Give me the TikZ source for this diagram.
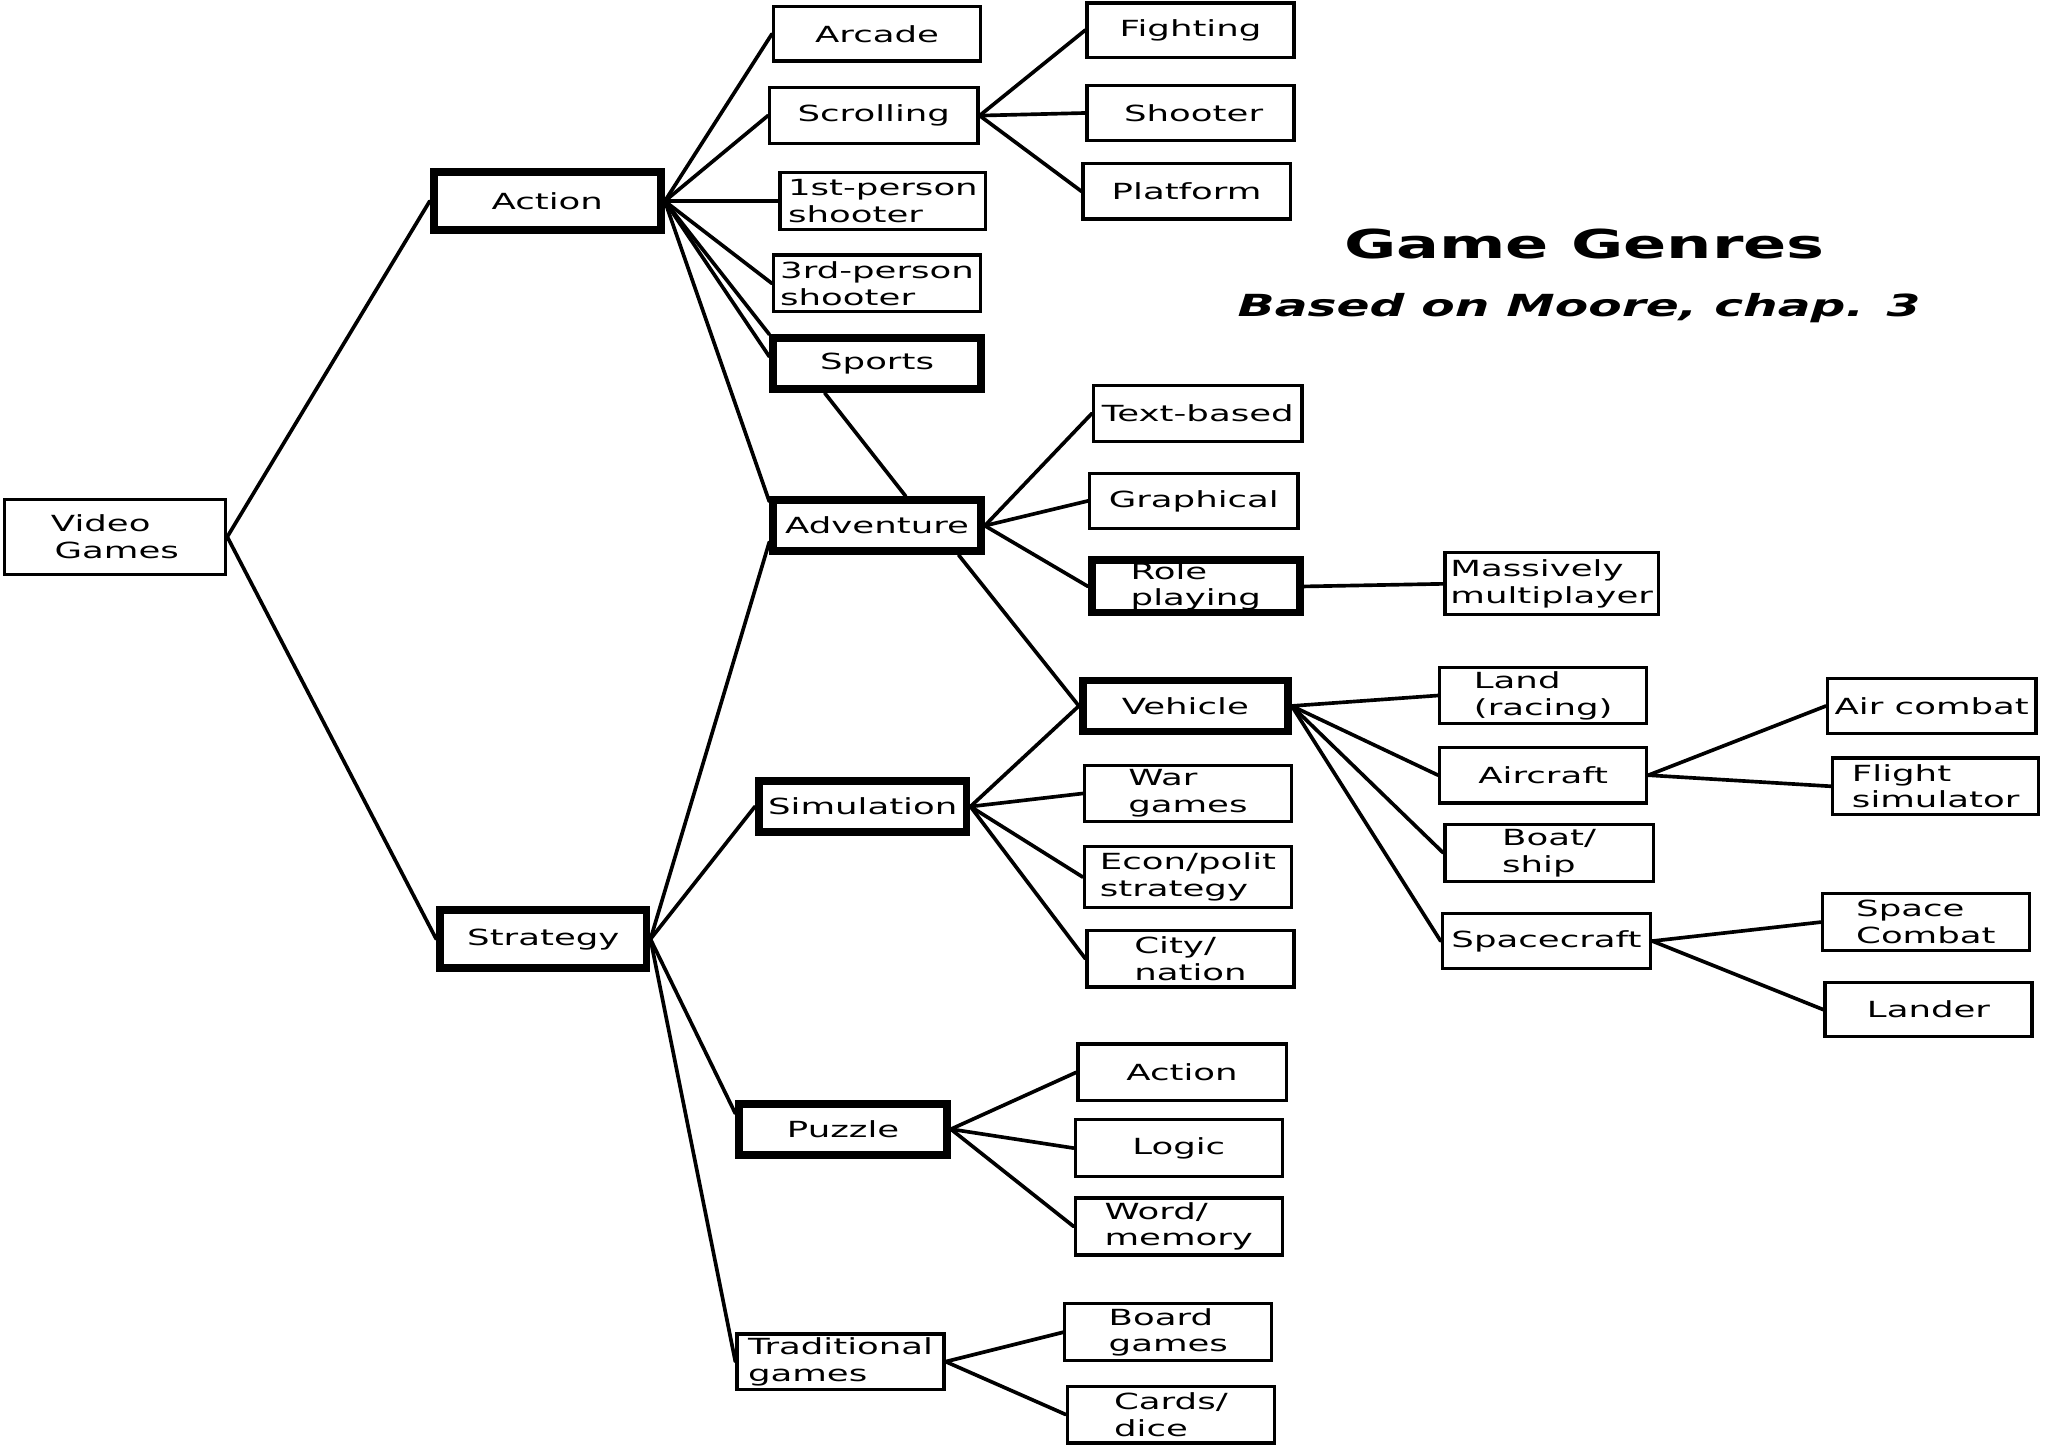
\documentclass[tikz,border=0pt]{standalone}
\usepackage{fontspec}
\setmainfont{DejaVu Sans}[FakeStretch=1.6]
\newcommand\bodyfont{\fontsize{17}{20.5}\selectfont}
\newcommand\titlefont{\bfseries\fontsize{30.5}{36}\selectfont}
\newcommand\subtitlefont{\bfseries\itshape\fontsize{23.3}{28}\selectfont}
\tikzset{
  box/.style={draw, line width=2.5pt, inner sep=0pt, align=left, font=\bodyfont},
  bx/.style args={#1/#2}{box, minimum width=#1pt-2.5pt, minimum height=#2pt-2.5pt},
  tbx/.style args={#1/#2}{box, line width=6pt, minimum width=#1pt-6pt, minimum height=#2pt-6pt},
  link/.style={line width=2.8pt, line cap=round},
}
\begin{document}
\begin{tikzpicture}[x=1pt,y=-1pt]
\useasboundingbox (0,0) rectangle (1568,1108);
% level 0
\node[bx=172/60] (vg) at (88,411) {Video\\\,Games};
% level 1
\node[tbx=180/50] (action) at (419,154) {Action};
\node[tbx=164/50] (strategy) at (416,719) {Strategy};
% action children
\node[bx=161/44] (arcade) at (671.5,26) {Arcade};
\node[bx=162/45] (scrolling) at (669,88.5) {Scrolling};
\node[bx=160/46] (first) at (676,154) {1st-person\\shooter};
\node[bx=161/46] (third) at (671.5,217) {3rd-person\\shooter};
\node[tbx=165/45] (sports) at (671.5,278.5) {Sports};
\node[tbx=165/45] (adventure) at (671.5,402.5) {Adventure};
% scrolling children
\node[bx=161/44] (fighting) at (911.5,23) {Fighting};
\node[bx=161/45] (shooter) at (911.5,86.5) {\;Shooter};
\node[bx=161/45] (platform) at (908.5,146.5) {Platform};
% title
\node[font=\titlefont] (title) at (1213,187) {Game Genres};
\node[font=\subtitlefont] (subtitle) at (1209,236) {Based on Moore, chap. 3};
% adventure children
\node[bx=162/45] (textbased) at (917,316.5) {Text-based};
\node[bx=162/45] (graphical) at (914,383.5) {Graphical};
\node[tbx=165/46] (roleplay) at (915.5,449) {Role\\playing};
\node[bx=166/50] (mmo) at (1188,447) {Massively\\multiplayer};
\node[tbx=163/45] (vehicle) at (907.5,540.5) {Vehicle};
% vehicle children
\node[bx=161/45] (land) at (1181.5,532.5) {Land\\(racing)};
\node[bx=161/45] (aircraft) at (1181.5,593.5) {Aircraft};
\node[bx=162/46] (boat) at (1186,653) {Boat/\\ship};
\node[bx=162/45] (spacecraft) at (1184,720.5) {Spacecraft};
\node[bx=162/45] (aircombat) at (1479,540.5) {Air combat};
\node[bx=160/46] (flightsim) at (1482,602) {Flight\\simulator};
\node[bx=161/46] (spacecombat) at (1474.5,706) {Space\\Combat};
\node[bx=161/44] (lander) at (1476.5,773) {Lander};
% strategy children
\node[tbx=165/45] (simulation) at (660.5,617.5) {Simulation};
\node[bx=161/45] (wargames) at (909.5,607.5) {War\\games};
\node[bx=161/49] (econ) at (909.5,671.5) {Econ/polit\\strategy};
\node[bx=161/46] (city) at (911.5,734) {City/\\nation};
\node[tbx=165/45] (puzzle) at (645.5,864.5) {Puzzle};
\node[bx=162/46] (pzaction) at (905,821) {Action};
\node[bx=161/46] (logic) at (902.5,879) {Logic};
\node[bx=161/46] (word) at (902.5,939) {Word/\\memory};
\node[bx=161/45] (traditional) at (643.5,1042.5) {Traditional\\games};
\node[bx=161/46] (board) at (894.5,1020) {Board\\games};
\node[bx=161/46] (cards) at (896.5,1083) {Cards/\\dice};
% connectors
\draw[link] (vg.east) -- (action.west);
\draw[link] (vg.east) -- (strategy.west);
\draw[link] (action.east) -- (arcade.west);
\draw[link] (action.east) -- (scrolling.west);
\draw[link] (action.east) -- (first.west);
\draw[link] (action.east) -- (third.west);
\draw[link] (action.east) -- (sports.north west);
\draw[link] (action.east) -- ([yshift=5.5pt]sports.west);
\draw[link] (action.east) -- ([yshift=-4pt]adventure.north west);
\draw[link] ([xshift=-40pt]sports.south) -- ([xshift=22pt]adventure.north);
\draw[link] (scrolling.east) -- (fighting.west);
\draw[link] (scrolling.east) -- (shooter.west);
\draw[link] (scrolling.east) -- (platform.west);
\draw[link] (adventure.east) -- (textbased.west);
\draw[link] (adventure.east) -- (graphical.west);
\draw[link] (adventure.east) -- (roleplay.west);
\draw[link] (roleplay.east) -- (mmo.west);
\draw[link] ([xshift=-20pt]adventure.south east) -- (vehicle.west);
\draw[link] (vehicle.east) -- (land.west);
\draw[link] (vehicle.east) -- (aircraft.west);
\draw[link] (vehicle.east) -- (boat.west);
\draw[link] (vehicle.east) -- (spacecraft.west);
\draw[link] (aircraft.east) -- (aircombat.west);
\draw[link] (aircraft.east) -- (flightsim.west);
\draw[link] (spacecraft.east) -- (spacecombat.west);
\draw[link] (spacecraft.east) -- (lander.west);
\draw[link] (strategy.east) -- ([yshift=10pt]adventure.south west);
\draw[link] (strategy.east) -- (simulation.west);
\draw[link] (strategy.east) -- ([yshift=12pt]puzzle.west);
\draw[link] (strategy.east) -- (traditional.west);
\draw[link] (simulation.east) -- (vehicle.west);
\draw[link] (simulation.east) -- (wargames.west);
\draw[link] (simulation.east) -- (econ.west);
\draw[link] (simulation.east) -- (city.west);
\draw[link] (puzzle.east) -- (pzaction.west);
\draw[link] (puzzle.east) -- (logic.west);
\draw[link] (puzzle.east) -- (word.west);
\draw[link] (traditional.east) -- (board.west);
\draw[link] (traditional.east) -- (cards.west);
\end{tikzpicture}
\end{document}
